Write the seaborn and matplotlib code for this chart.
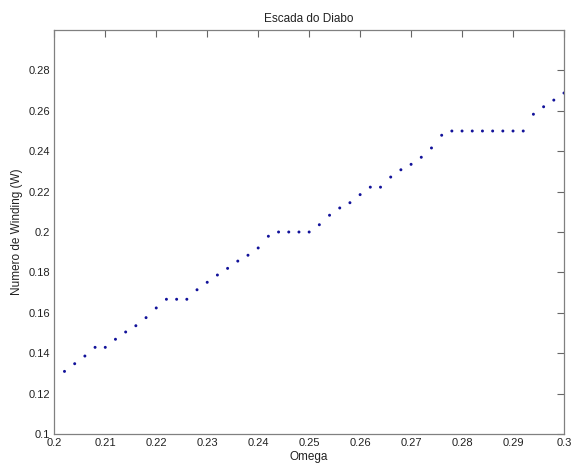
import matplotlib
matplotlib.use("Agg")
import matplotlib.pyplot as plt
import seaborn as sns
import pandas as pd

# Frequency ratio (Omega) and measured winding number W
omega = [0.202, 0.204, 0.206, 0.208, 0.210, 0.212, 0.214, 0.216, 0.218, 0.220,
         0.222, 0.224, 0.226, 0.228, 0.230, 0.232, 0.234, 0.236, 0.238, 0.240,
         0.242, 0.244, 0.246, 0.248, 0.250, 0.252, 0.254, 0.256, 0.258, 0.260,
         0.262, 0.264, 0.266, 0.268, 0.270, 0.272, 0.274, 0.276, 0.278, 0.280,
         0.282, 0.284, 0.286, 0.288, 0.290, 0.292, 0.294, 0.296, 0.298, 0.300]
winding = [0.1310, 0.1348, 0.1386, 0.1429, 0.1429, 0.1469, 0.1505, 0.1536, 0.1576, 0.1624,
           0.1667, 0.1667, 0.1667, 0.1714, 0.1751, 0.1787, 0.1820, 0.1856, 0.1885, 0.1921,
           0.1979, 0.2000, 0.2000, 0.2000, 0.2000, 0.2036, 0.2083, 0.2119, 0.2145, 0.2185,
           0.2222, 0.2222, 0.2272, 0.2308, 0.2335, 0.2370, 0.2416, 0.2479, 0.2500, 0.2500,
           0.2500, 0.2500, 0.2500, 0.2500, 0.2500, 0.2500, 0.2583, 0.2620, 0.2653, 0.2688]

xticks = [0.2, 0.21, 0.22, 0.23, 0.24, 0.25, 0.26, 0.27, 0.28, 0.29, 0.3]
xticklabels = ["0.2", "0.21", "0.22", "0.23", "0.24", "0.25", "0.26", "0.27", "0.28", "0.29", "0.3"]
yticks = [0.1, 0.12, 0.14, 0.16, 0.18, 0.2, 0.22, 0.24, 0.26, 0.28]
yticklabels = ["0.1", "0.12", "0.14", "0.16", "0.18", "0.2", "0.22", "0.24", "0.26", "0.28"]

df = pd.DataFrame({"Omega": omega, "W": winding})

sns.set_style("white")
plt.rcParams["font.family"] = ["Liberation Sans", "DejaVu Sans"]

fig = plt.figure(figsize=(5.75, 4.68), dpi=100)
ax = fig.add_axes([54.3 / 575, 34 / 468, (564 - 54.3) / 575, (434 - 30) / 468])

sns.scatterplot(data=df, x="Omega", y="W", ax=ax, marker="o", s=4.5,
                color="#12129a", edgecolor="none", linewidth=0, legend=False)

ax.set_xlim(0.2, 0.3)
ax.set_ylim(0.1, 0.3)
ax.set_xticks(xticks)
ax.set_xticklabels(xticklabels)
ax.set_yticks(yticks)
ax.set_yticklabels(yticklabels)

for side in ax.spines.values():
    side.set_color("#808080")
    side.set_linewidth(0.9)

ax.tick_params(axis="both", direction="in", length=5, width=0.8, color="#666666",
               labelsize=8, labelcolor="#222222", top=True, right=True, pad=3)

ax.set_title("Escada do Diabo", fontsize=8.5, color="#222222", pad=6)
ax.set_xlabel("Omega", fontsize=8.5, color="#222222", labelpad=2)
ax.set_ylabel("Numero de Winding (W)", fontsize=8.5, color="#222222", labelpad=4)

fig.savefig("out.png", dpi=100, facecolor="white")
